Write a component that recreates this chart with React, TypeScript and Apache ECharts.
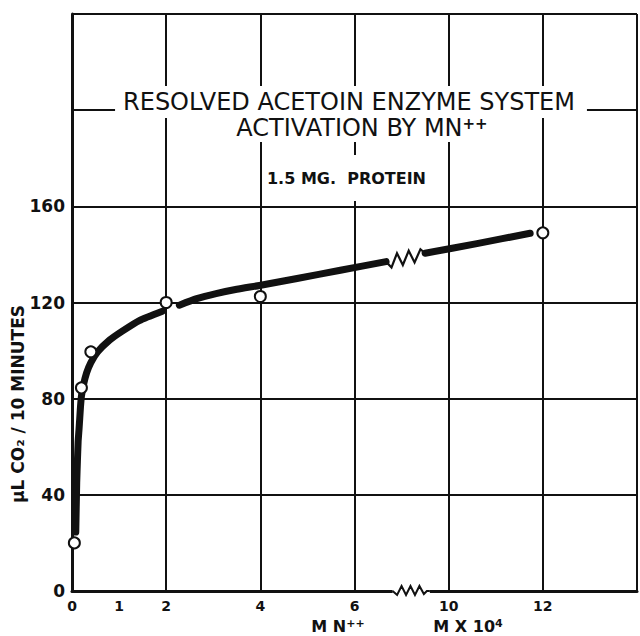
import React, { useEffect, useRef } from "react";
import * as echarts from "echarts";

// ---- data (real MN++ concentration, M x 10^4) ----
const curveLow: number[][] = [
  [0.08, 24.5], [0.1, 45], [0.115, 54], [0.13, 62], [0.15, 67.5], [0.165, 72],
  [0.18, 76.5], [0.2, 81], [0.24, 85.5], [0.31, 90.7], [0.4, 95], [0.545, 99.5],
  [0.8, 104.4], [1.06, 108], [1.43, 112.5], [1.92, 116.4],
];
const curveMid: number[][] = [
  [2.28, 118.9], [2.65, 121.6], [3.06, 123.7], [3.5, 125.5], [3.98, 127.1],
  [4.78, 130], [5.7, 133.4], [6.67, 137],
];
const curveHigh: number[][] = [
  [9.5, 140.5], [10.6, 144.5], [11.73, 148.8],
];
const measured: number[][] = [
  [0.05, 20], [0.2, 84.5], [0.4, 99.5], [2, 120], [4, 122.5], [12, 149],
];
const xTickPositions = [0, 1, 2, 4, 6, 8, 10];
const xTickLabels = ["0", "1", "2", "4", "6", "10", "12"];
const yTickLabels = [0, 40, 80, 120, 160];

// axis break: real values above the break are shifted left by 2 units
const BREAK_SHIFT = 2;
const BREAK_REAL = 8;
const toAxis = (x: number) => (x > BREAK_REAL ? x - BREAK_SHIFT : x);
const mapData = (d: number[][]) => d.map(([x, y]) => [toAxis(x), y]);

const INK = "#111";
const FONT = "'DejaVu Sans', 'Liberation Sans', sans-serif";

export default function App() {
  const ref = useRef<HTMLDivElement>(null);
  useEffect(() => {
    document.body.style.margin = "0";
    if (!ref.current) return;
    const chart = echarts.init(ref.current, undefined, { renderer: "svg" });
    const lineSeries = (data: number[][]) => ({
      type: "line",
      data: mapData(data),
      showSymbol: false,
      smooth: 0.2,
      lineStyle: { color: INK, width: 7, cap: "round", join: "round" },
      z: 2,
      silent: true,
    });
    const option: any = {
      animation: false,
      backgroundColor: "#fff",
      grid: { left: 72, right: -5, top: 14, bottom: 45 },
      xAxis: [
        {
          type: "value",
          min: 0,
          max: 12,
          interval: 1,
          axisLine: { show: true, lineStyle: { color: INK, width: 3 } },
          axisTick: { show: false },
          splitLine: { show: false },
          axisLabel: {
            margin: 8,
            color: INK,
            fontSize: 14,
            fontWeight: "bold",
            fontFamily: FONT,
            formatter: (v: number) => {
              const i = xTickPositions.indexOf(v);
              return i >= 0 ? xTickLabels[i] : "";
            },
          },
        },
        {
          type: "value",
          min: 0,
          max: 12,
          interval: 2,
          axisLine: { show: false },
          axisTick: { show: false },
          axisLabel: { show: false },
          splitLine: { show: true, lineStyle: { color: INK, width: 2 } },
        },
      ],
      yAxis: {
        type: "value",
        min: 0,
        max: 240,
        interval: 40,
        axisLine: { show: true, lineStyle: { color: INK, width: 3 } },
        axisTick: { show: false },
        splitLine: { show: true, lineStyle: { color: INK, width: 2 } },
        axisLabel: {
          margin: 7,
          color: INK,
          fontSize: 17,
          fontWeight: "bold",
          fontFamily: FONT,
          formatter: (v: number) => (yTickLabels.indexOf(v) >= 0 ? String(v) : ""),
        },
      },
      series: [
        lineSeries(curveLow),
        lineSeries(curveMid),
        lineSeries(curveHigh),
        {
          type: "scatter",
          data: mapData(measured),
          symbol: "circle",
          symbolSize: 11,
          itemStyle: { color: "#fff", borderColor: INK, borderWidth: 2, opacity: 1 },
          z: 4,
          silent: true,
        },
      ],
    };
    chart.setOption(option);

    const px = (p: number[]) =>
      chart.convertToPixel({ xAxisIndex: 0, yAxisIndex: 0 }, p) as number[];

    // zigzag on the curve between the mid and high segments
    const a = px(mapData([curveMid[curveMid.length - 1]])[0]);
    const b = px(mapData([curveHigh[0]])[0]);
    const zz = [
      [0, 0], [0.14, 7], [0.28, -6], [0.43, 7], [0.58, -6], [0.73, 7], [0.88, -5], [1, 0],
    ].map(([t, o]) => [a[0] + (b[0] - a[0]) * t, a[1] + (b[1] - a[1]) * t + o]);

    // zigzag on the x axis
    const s = px([6.81, 0]);
    const e = px([7.6, 0]);
    const az = [
      [0, 0], [0.12, 4], [0.24, -5], [0.36, 4], [0.48, -5], [0.6, 4], [0.72, -5], [0.84, 3], [0.92, 0], [1, 0],
    ].map(([t, o]) => [s[0] + (e[0] - s[0]) * t, s[1] + o]);

    const txt = (x: number, y: number, text: string, size: number, weight: string, extra: any = {}) => ({
      type: "text",
      x,
      y,
      z: 100,
      silent: true,
      style: {
        text,
        fill: INK,
        fontSize: size,
        fontWeight: weight,
        fontFamily: FONT,
        align: "center",
        verticalAlign: "middle",
        textAlign: "center",
        textVerticalAlign: "middle",
        ...extra,
      },
    });

    chart.setOption({
      graphic: [
        txt(351, 102, "RESOLVED ACETOIN ENZYME SYSTEM", 24, "normal", {
          backgroundColor: "#fff",
          padding: [4, 12, 4, 8],
        }),
        txt(362, 128, "{a|ACTIVATION BY MN}{s|++}", 24, "normal", {
          backgroundColor: "#fff",
          padding: [2, 4, 2, 4],
          rich: {
            a: { fontSize: 24, fontFamily: FONT, fill: INK },
            s: { fontSize: 15, fontWeight: "bold", fontFamily: FONT, fill: INK, verticalAlign: "top" },
          },
        }),
        txt(347, 178, "1.5 MG.  PROTEIN", 16, "bold", {
          backgroundColor: "#fff",
          padding: [26, 4, 4, 3],
        }),
        txt(338, 626, "{a|M N}{s|++}", 16, "bold", {
          rich: {
            a: { fontSize: 16, fontWeight: "bold", fontFamily: FONT, fill: INK },
            s: { fontSize: 11, fontWeight: "bold", fontFamily: FONT, fill: INK, verticalAlign: "top" },
          },
        }),
        txt(468, 626, "{a|M X 10}{s|4}", 16, "bold", {
          rich: {
            a: { fontSize: 16, fontWeight: "bold", fontFamily: FONT, fill: INK },
            s: { fontSize: 11, fontWeight: "bold", fontFamily: FONT, fill: INK, verticalAlign: "top" },
          },
        }),
        {
          type: "text",
          x: 18,
          y: 404,
          rotation: Math.PI / 2,
          z: 100,
          silent: true,
          style: {
            text: "µL CO₂ / 10 MINUTES",
            fill: INK,
            fontSize: 17,
            fontWeight: "bold",
            fontFamily: FONT,
            align: "center",
            verticalAlign: "middle",
            textAlign: "center",
            textVerticalAlign: "middle",
          },
        },
        {
          type: "rect",
          z: 99,
          silent: true,
          shape: { x: s[0], y: s[1] - 3, width: e[0] - s[0], height: 6 },
          style: { fill: "#fff" },
        },
        {
          type: "polyline",
          z: 100,
          silent: true,
          shape: { points: az },
          style: { stroke: INK, lineWidth: 2, fill: "none" },
        },
        {
          type: "polyline",
          z: 100,
          silent: true,
          shape: { points: zz },
          style: { stroke: INK, lineWidth: 2.2, fill: "none" },
        },
      ],
    });

    return () => chart.dispose();
  }, []);
  return <div ref={ref} style={{ width: 640, height: 636 }} />;
}
